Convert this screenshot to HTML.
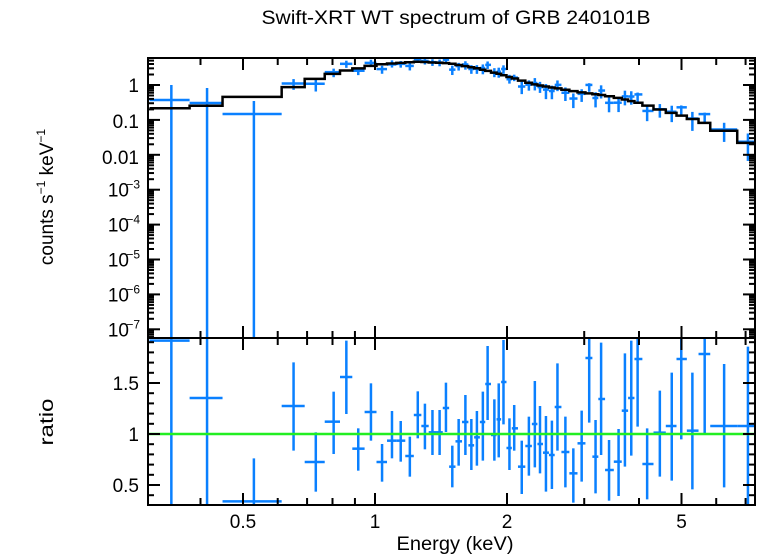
<!DOCTYPE html>
<html><head><meta charset="utf-8"><style>
html,body{margin:0;padding:0;background:#fff;}
svg{display:block;font-family:"Liberation Sans",sans-serif;}
</style></head><body>
<svg id="s" width="758" height="556" viewBox="0 0 758 556" xmlns="http://www.w3.org/2000/svg">
<rect width="758" height="556" fill="#fff"/>
<text x="456" y="24" font-size="19" text-anchor="middle" textLength="389" lengthAdjust="spacingAndGlyphs">Swift-XRT WT spectrum of GRB 240101B</text>
<text transform="translate(53,197) rotate(-90)" font-size="19" text-anchor="middle">counts s<tspan font-size="12" dy="-8">−1</tspan><tspan dy="8"> keV</tspan><tspan font-size="12" dy="-8">−1</tspan></text>
<text transform="translate(53,422) rotate(-90)" font-size="19" text-anchor="middle" textLength="47" lengthAdjust="spacingAndGlyphs">ratio</text>
<text x="455" y="550" font-size="19" text-anchor="middle" textLength="117" lengthAdjust="spacingAndGlyphs">Energy (keV)</text>
<g id="g"></g>
</svg>
<script>
var NS="http://www.w3.org/2000/svg",g=document.getElementById("g");
function el(t,a,p){var e=document.createElementNS(NS,t);for(var k in a)e.setAttribute(k,a[k]);(p||g).appendChild(e);return e;}
function ln(x1,y1,x2,y2,c,w){el("line",{x1:x1,y1:y1,x2:x2,y2:y2,stroke:c,"stroke-width":w});}
function tx(x,y,s,anc){var t=el("text",{x:x,y:y,"font-size":19,"text-anchor":anc||"middle"});t.textContent=s;return t;}
var L=148,R=755,T1=58,B1=338,T2=338,B2=505;
function X(e){return 375+438.5*Math.log10(e);}
var D=34.9;
function Y1(v){return 85-D*Math.log10(v);}
function Y2(r){return 434-(r-1)*102;}
var P=[[79,62,-99,999],[169,234,-99,999],[287,544,415,999],[387,258,127,392],[443,426,337,515],[488,305,215,402],[520,171,62,282],[550,386,325,452],[582,276,190,362],[610,426,372,485],[635,362,273,415],[657,362,303,425],[680,408,350,470],[700,285,214,355],[718,318,251,388],[737,337,270,405],[755,337,270,405],[771,264,188,336],[787,440,377,502],[803,364,297,437],[820,306,225,405],[835,376,297,450],[849,352,273,437],[864,306,215,422],[876,192,78,300],[893,345,238,422],[904,298,190,412],[916,186,60,313],[931,384,295,450],[943,325,255,392],[962,440,362,522],[980,378,290,467],[995,312,183,442],[1008,372,258,460],[1023,398,288,515],[1038,405,302,507],[1052,261,130,392],[1072,396,290,502],[1092,460,385,548],[1113,370,272,485],[1132,114,50,308],[1148,410,300,520],[1162,237,68,405],[1182,450,360,542],[1206,425,327,528],[1222,272,100,440],[1238,234,62,407],[1254,117,48,320],[1278,432,325,538],[1310,338,212,470],[1340,318,158,482],[1364,117,48,358],[1392,332,158,508],[1423,102,48,340],[1472,318,132,502],[1532,318,80,555]];
var MK=[[75,108.3],[166,106],[282,97.3],[386,87.3],[442,79],[487,74],[518,70.7],[551,68.3],[584,65.7],[614,64],[700,61.7],[780,63.3],[850,68.3],[900,73.3],[950,79.3],[1000,85],[1050,88.3],[1100,91.7],[1150,94.3],[1200,97.3],[1250,102.3],[1300,108.3],[1350,114],[1400,120],[1440,125],[1472,130.7],[1534,143.3]];
function zx(z){return 140+z/2.52;}
function zy(z){return 320+z/3;}
function model(zxv){if(zxv<=MK[0][0])return MK[0][1];for(var i=1;i<MK.length;i++){if(zxv<=MK[i][0]){var a=MK[i-1],b=MK[i];return a[1]+(b[1]-a[1])*(zxv-a[0])/(b[0]-a[0]);}}return MK[MK.length-1][1];}
var edges=[[24,125],[125,208],[208,357]];
for(var i=3;i<P.length;i++){var l=(i==3)?357:(P[i-1][0]+P[i][0])/2;var r=(i==P.length-1)?1563:(P[i][0]+P[i+1][0])/2;edges.push([l,r]);}
edges[edges.length-2][1]=1505;edges[edges.length-1][0]=1505;edges[edges.length-3][1]=1437;edges[edges.length-2][0]=1437;
var BLUE="#0a80ff";
var defs=el("defs",{});
var c1=el("clipPath",{id:"c1"},defs);el("rect",{x:L,y:T1,width:R-L,height:B1-T1},c1);
var c2=el("clipPath",{id:"c2"},defs);el("rect",{x:L,y:T2,width:R-L,height:B2-T2},c2);
var g1=el("g",{"clip-path":"url(#c1)"}),g2=el("g",{"clip-path":"url(#c2)"});
var d="";
for(var i=0;i<P.length;i++){var m=model(P[i][0]);var x0=zx(edges[i][0]),x1=zx(edges[i][1]);d+=(i==0?"M"+x0+","+m:"L"+x0+","+m)+"L"+x1+","+m;}
d+="L"+(R+5)+","+model(1563);
function r2(y){return 1+(434-y)/102;}
for(var i=0;i<P.length;i++){
 var p=P[i],cx=zx(p[0]),x0=zx(edges[i][0]),x1=zx(edges[i][1]);
 var yc=zy(p[1]),yt=p[2]<0?T2-20:zy(p[2]),yb=p[3]>900?B2+20:zy(p[3]);
 el("line",{x1:x0,y1:yc,x2:x1,y2:yc,stroke:BLUE,"stroke-width":2.5},g2);
 el("line",{x1:cx,y1:yt,x2:cx,y2:yb,stroke:BLUE,"stroke-width":2.5},g2);
 var m=model(p[0]);
 var rc=r2(yc),rt=r2(yt),rb=r2(yb);
 var Yc=m-D*Math.log10(rc),Yt=m-D*Math.log10(rt),Yb=rb>0.01?m-D*Math.log10(rb):B1+20;
 if(i==0){Yc=100;Yt=85;Yb=B1+20;} if(i==1){Yc=103;Yt=88;Yb=B1+20;} if(i==2){Yc=114;Yt=101;Yb=B1+20;}
 el("line",{x1:x0,y1:Yc,x2:x1,y2:Yc,stroke:BLUE,"stroke-width":2.5},g1);
 el("line",{x1:cx,y1:Yt,x2:cx,y2:Yb,stroke:BLUE,"stroke-width":2.5},g1);
}
el("path",{d:d,fill:"none",stroke:"#000","stroke-width":2.5},g1);
ln(L,434,R,434,"#22ee22",2.5);
el("rect",{x:L,y:T1,width:R-L,height:B1-T1,fill:"none",stroke:"#000","stroke-width":2});
el("rect",{x:L,y:T2,width:R-L,height:B2-T2,fill:"none",stroke:"#000","stroke-width":2});
var xt=[0.4,0.5,0.6,0.7,0.8,0.9,1,2,3,4,5,6,7];
xt.forEach(function(e){var x=X(e);if(x<L||x>R)return;var mj=(e==1||e==2||e==5||e==0.5)?12:7;
 ln(x,T1,x,T1+mj,"#000",2);ln(x,B1,x,B1-mj,"#000",2);ln(x,T2,x,T2+mj,"#000",2);ln(x,B2,x,B2-mj,"#000",2);});
for(var k=-8;k<=1;k++){for(var j=1;j<10;j++){var v=j*Math.pow(10,k),y=Y1(v);if(y<T1||y>B1)continue;var len=j==1?12:6;ln(L,y,L+len,y,"#000",2);ln(R,y,R-len,y,"#000",2);}}
for(var r=0.3;r<=1.95;r+=0.1){var y=Y2(r);if(y<T2||y>B2)continue;var mj=Math.abs(r*2-Math.round(r*2))<0.01?12:6;ln(L,y,L+mj,y,"#000",2);ln(R,y,R-mj,y,"#000",2);}
tx(139,92,"1","end");tx(139,128,"0.1","end");tx(139,164,"0.01","end");
var ex=[-3,-4,-5,-6,-7];
ex.forEach(function(k){var y=Y1(Math.pow(10,k))+7;var t=tx(129,y,"10","end");var s=el("text",{x:140,y:y-8,"font-size":12,"text-anchor":"end"});s.textContent="−"+(-k);});
tx(139,390,"1.5","end");tx(139,441,"1","end");tx(139,492,"0.5","end");
tx(X(0.5),528,"0.5");tx(X(1),528,"1");tx(X(2),528,"2");tx(X(5),528,"5");
</script>
</body></html>
